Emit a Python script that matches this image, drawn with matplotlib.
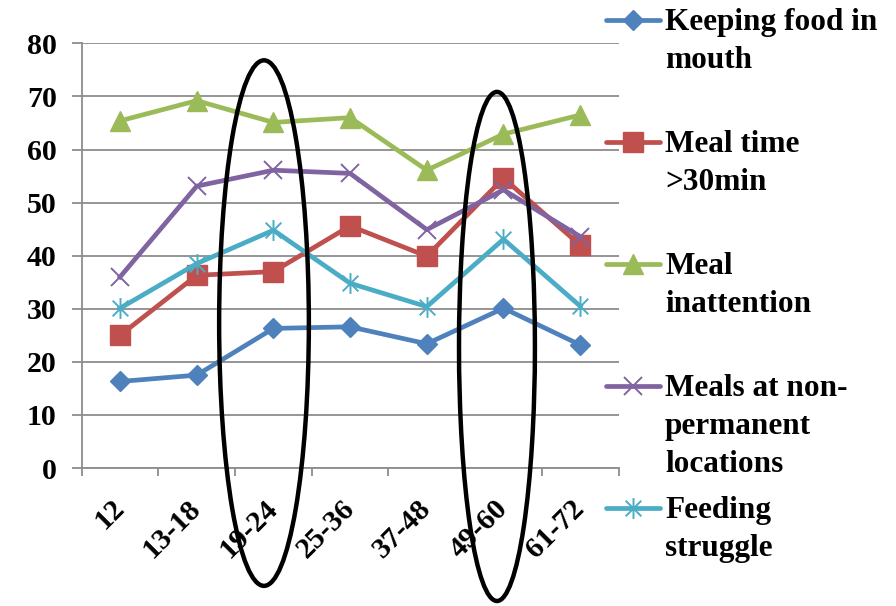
import matplotlib
matplotlib.use('Agg')
import matplotlib.pyplot as plt
from matplotlib.lines import Line2D
from matplotlib.patches import Ellipse
from matplotlib.path import Path
import numpy as np

plt.rcParams['font.family'] = 'Liberation Serif'
plt.rcParams['font.weight'] = 'bold'

ages = ['12', '13-18', '19-24', '25-36', '37-48', '49-60', '61-72']

keeping_food = [16.3, 17.5, 26.3, 26.6, 23.4, 30.1, 23.2]
meal_time = [25.0, 36.3, 37.0, 45.6, 39.9, 54.6, 42.0]
meal_inattention = [65.4, 69.2, 65.1, 66.0, 56.1, 62.9, 66.5]
non_permanent = [36.0, 53.1, 56.1, 55.5, 44.9, 52.4, 43.6]
feeding_struggle = [30.1, 38.5, 44.8, 34.8, 30.4, 43.1, 30.5]

labels = ['Keeping food in\nmouth', 'Meal time\n>30min', 'Meal\ninattention',
          'Meals at non-\npermanent\nlocations', 'Feeding\nstruggle']

# asterisk made of a vertical bar and an x
star = Path([(0, -1), (0, 1), (-0.75, -0.75), (0.75, 0.75), (-0.75, 0.75), (0.75, -0.75)],
            [Path.MOVETO, Path.LINETO, Path.MOVETO, Path.LINETO, Path.MOVETO, Path.LINETO])

styles = [
    ('#4F81BD', 'D', 10.5, {}),
    ('#C0504D', 's', 14, {}),
    ('#9BBB59', '^', 14, {}),
    ('#8064A2', 'x', 13.5, {'markeredgewidth': 1.4}),
    ('#4BACC6', star, 15, {'markeredgewidth': 1.4}),
]
series = [keeping_food, meal_time, meal_inattention, non_permanent, feeding_struggle]

fig = plt.figure(figsize=(8.96, 6.06), dpi=100)
ax = fig.add_axes([0.0912, 0.2277, 0.5991, 0.7008])

x = np.arange(len(ages))
for vals, (color, marker, ms, extra) in zip(series, styles):
    ax.plot(x, vals, color=color, lw=3.4, marker=marker, ms=ms,
            markerfacecolor=color, markeredgecolor=color, zorder=3, **extra)

grid_color = '#8c8c8c'
ax.set_xlim(-0.5, len(ages) - 0.5)
ax.set_ylim(0, 80)
ax.set_yticks(np.arange(0, 81, 10))
ax.yaxis.grid(True, color=grid_color, lw=1.3)
ax.set_axisbelow(True)
for side in ['top', 'right']:
    ax.spines[side].set_visible(False)
for side in ['left', 'bottom']:
    ax.spines[side].set_color(grid_color)
    ax.spines[side].set_linewidth(1.3)

ax.set_xticks(x)
ax.set_xticklabels(ages, rotation=45, ha='right', va='center', rotation_mode='anchor')
ax.set_xticks(np.arange(-0.5, len(ages)), minor=True)
ax.tick_params(axis='x', which='major', length=0, pad=26, labelsize=21.5)
ax.tick_params(axis='x', which='minor', length=6, width=1.3, color=grid_color, direction='out')
ax.tick_params(axis='y', length=7, width=1.3, color=grid_color, pad=11, labelsize=21.5)

# highlighted age groups
for cx, cy, w, h in [(1.877, 27.3, 1.17, 99.0), (4.915, 22.9, 0.99, 95.9)]:
    ax.add_patch(Ellipse((cx, cy), w, h, fill=False, edgecolor='black',
                         lw=3.2, clip_on=False, zorder=5))

# legend on the right, built by hand so each entry sits at a fixed slot
W, H = 896, 606
for i, (label, (color, marker, ms, extra)) in enumerate(zip(labels, styles)):
    yp = 20 + i * 122
    fy = 1 - yp / H
    fig.add_artist(Line2D([606 / W, 660 / W], [fy, fy], color=color, lw=3.4,
                          solid_capstyle='round', transform=fig.transFigure))
    fig.add_artist(Line2D([633 / W], [fy], color=color, marker=marker, ms=ms,
                          markerfacecolor=color, markeredgecolor=color,
                          transform=fig.transFigure, **extra))
    fig.text(665 / W, 1 - (yp - 12) / H, label, fontsize=22.5, va='top',
             ha='left', linespacing=1.4)

fig.savefig('out.png', dpi=100)
